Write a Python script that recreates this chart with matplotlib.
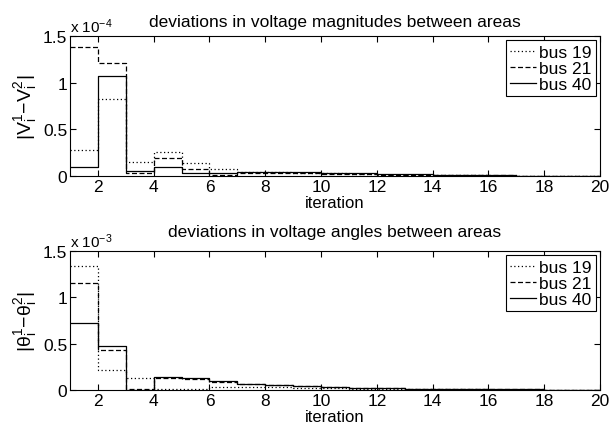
import numpy as np
import matplotlib
matplotlib.use("Agg")
import matplotlib.pyplot as plt

plt.rcParams["font.family"] = ["Liberation Sans", "DejaVu Sans"]
plt.rcParams["mathtext.fontset"] = "custom"
plt.rcParams["mathtext.rm"] = "Liberation Sans"
plt.rcParams["mathtext.it"] = "Liberation Sans"
plt.rcParams["mathtext.default"] = "regular"

iterations = np.arange(1, 21)

# voltage magnitude deviations (x 1e-4)
mag_bus19 = [0.28, 0.825, 0.155, 0.26, 0.14, 0.07, 0.045, 0.04, 0.035, 0.03,
             0.02, 0.015, 0.01, 0.008, 0.006, 0.004, 0.003, 0.002, 0.001, 0.001]
mag_bus21 = [1.38, 1.21, 0.035, 0.19, 0.07, 0.01, 0.03, 0.03, 0.03, 0.025,
             0.02, 0.015, 0.012, 0.01, 0.008, 0.006, 0.004, 0.003, 0.002, 0.001]
mag_bus40 = [0.095, 1.07, 0.055, 0.10, 0.03, 0.03, 0.045, 0.045, 0.04, 0.035,
             0.03, 0.025, 0.02, 0.015, 0.01, 0.008, 0.004, 0.003, 0.002, 0.001]

# voltage angle deviations (x 1e-3)
ang_bus19 = [1.334, 0.22, 0.126, 0.01, 0.01, 0.035, 0.035, 0.03, 0.025, 0.02,
             0.015, 0.012, 0.01, 0.008, 0.006, 0.005, 0.004, 0.003, 0.002, 0.001]
ang_bus21 = [1.154, 0.435, 0.01, 0.13, 0.115, 0.085, 0.06, 0.05, 0.04, 0.03,
             0.025, 0.02, 0.015, 0.012, 0.01, 0.008, 0.006, 0.004, 0.003, 0.002]
ang_bus40 = [0.72, 0.478, 0.0, 0.14, 0.125, 0.095, 0.07, 0.055, 0.045, 0.03,
             0.025, 0.02, 0.015, 0.012, 0.01, 0.008, 0.006, 0.004, 0.003, 0.002]

labels = ["bus 19", "bus 21", "bus 40"]
styles = [(0, (1, 2)), (0, (4, 2)), "-"]
FS = 12.5


def draw_panel(ax, series, title, ylabel, exponent, title_pad):
    for vals, lab, ls in zip(series, labels, styles):
        ax.step(iterations, vals, where="post", color="black", lw=0.9, ls=ls, label=lab)
    ax.set_xlim(1, 20)
    ax.set_ylim(0, 1.5)
    ax.set_xticks(range(2, 21, 2))
    ax.set_yticks([0, 0.5, 1, 1.5])
    ax.set_yticklabels(["0", "0.5", "1", "1.5"])
    ax.tick_params(direction="in", top=True, right=True, labelsize=FS, length=4, pad=2)
    for s in ax.spines.values():
        s.set_linewidth(0.8)
    ax.set_title(title, fontsize=FS, pad=title_pad)
    ax.set_ylabel(ylabel, fontsize=14, labelpad=3)
    ax.set_xlabel("iteration", fontsize=12, labelpad=1)
    ax.text(0.0, 1.01, r"x 10$^{%d}$" % exponent, transform=ax.transAxes,
            fontsize=11, ha="left", va="bottom")
    leg = ax.legend(loc="upper right", fontsize=FS, handlelength=1.5, handletextpad=0.15,
                    fancybox=False, framealpha=1, edgecolor="black", borderpad=0.25,
                    labelspacing=0.05, borderaxespad=0.25)
    leg.get_frame().set_linewidth(0.8)


fig = plt.figure(figsize=(6.1, 4.31), dpi=100)
ax1 = fig.add_axes([70 / 610, (431 - 177) / 431, 530 / 610, 140 / 431])
ax2 = fig.add_axes([70 / 610, (431 - 391) / 431, 530 / 610, 139 / 431])

draw_panel(ax1, [mag_bus19, mag_bus21, mag_bus40],
           "deviations in voltage magnitudes between areas",
           r"$|V_i^1\!-\!V_i^2|$", -4, 7.5)
draw_panel(ax2, [ang_bus19, ang_bus21, ang_bus40],
           "deviations in voltage angles between areas",
           r"$|\theta_i^1\!-\!\theta_i^2|$", -3, 10.5)

fig.savefig("out.png", dpi=100)
